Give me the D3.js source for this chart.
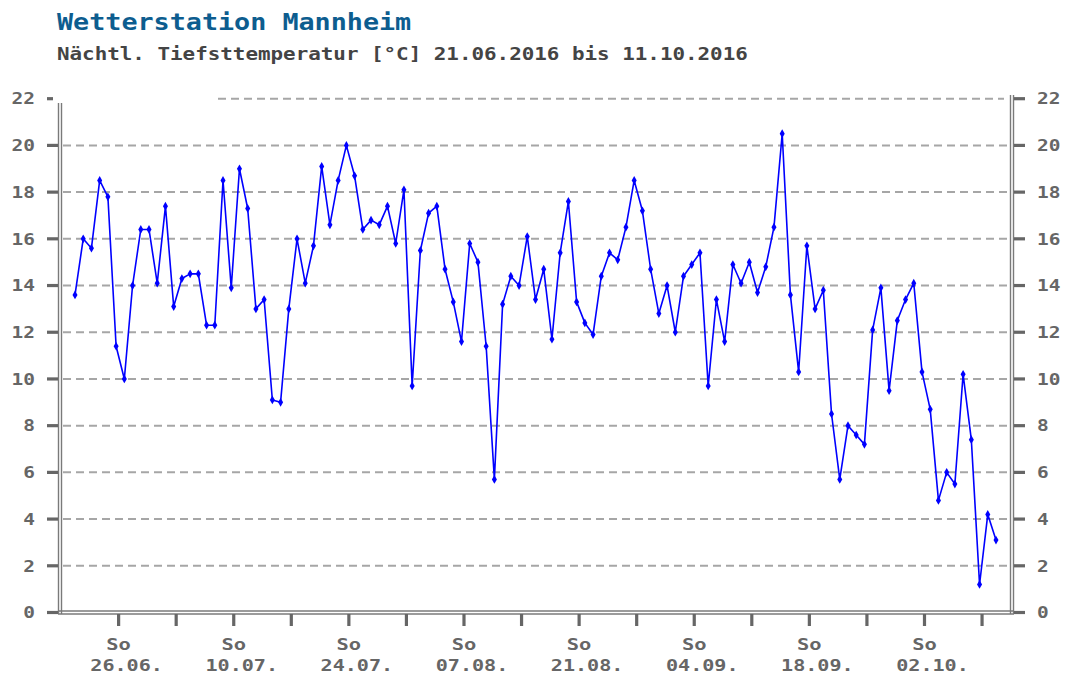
<!DOCTYPE html>
<html>
<head>
<meta charset="utf-8">
<script src="https://cdn.jsdelivr.net/npm/d3@7"></script>
<style>
  html, body { margin: 0; padding: 0; background: #fff; }
  svg { display: block; }
</style>
</head>
<body>
<svg id="chart" width="1068" height="677"></svg>
<script>
// ---- data ----
const titleText = "Wetterstation Mannheim";
const subtitleText = "Nächtl. Tiefsttemperatur [°C] 21.06.2016 bis 11.10.2016";
const startDate = "2016-06-21";
const endDate = "2016-10-11";
const minTemps = [
  13.6,16.0,15.6,18.5,17.8,11.4,10.0,14.0,16.4,16.4,
  14.1,17.4,13.1,14.3,14.5,14.5,12.3,12.3,18.5,13.9,
  19.0,17.3,13.0,13.4,9.1,9.0,13.0,16.0,14.1,15.7,
  19.1,16.6,18.5,20.0,18.7,16.4,16.8,16.6,17.4,15.8,
  18.1,9.7,15.5,17.1,17.4,14.7,13.3,11.6,15.8,15.0,
  11.4,5.7,13.2,14.4,14.0,16.1,13.4,14.7,11.7,15.4,
  17.6,13.3,12.4,11.9,14.4,15.4,15.1,16.5,18.5,17.2,
  14.7,12.8,14.0,12.0,14.4,14.9,15.4,9.7,13.4,11.6,
  14.9,14.1,15.0,13.7,14.8,16.5,20.5,13.6,10.3,15.7,
  13.0,13.8,8.5,5.7,8.0,7.6,7.2,12.1,13.9,9.5,
  12.5,13.4,14.1,10.3,8.7,4.8,6.0,5.5,10.2,7.4,
  1.2,4.2,3.1
];
const yTicks = [0,2,4,6,8,10,12,14,16,18,20,22];
const weekdayLabel = "So";

// ---- setup ----
const svg = d3.select("#chart");
const parse = d3.utcParse("%Y-%m-%d");
const d0 = parse(startDate), d1 = parse(endDate);
const dates = minTemps.map((_, i) => d3.utcDay.offset(d0, i));
const data = dates.map((d, i) => ({ date: d, v: minTemps[i] }));

const x = d3.scaleUtc().domain([d0, d1]).range([75, 996]);
const y = d3.scaleLinear().domain([0, 22]).range([612.5, 98.7]);

const fontFam = "'DejaVu Sans Mono', 'Liberation Mono', monospace";
const axisGray = "#7a7a7a";
const labelGray = "#666666";

function stretchedText(sel, str, charW) {
  sel.text(str)
     .attr("textLength", str.length * charW)
     .attr("lengthAdjust", "spacingAndGlyphs");
  return sel;
}

// ---- titles ----
stretchedText(svg.append("text")
  .attr("x", 57).attr("y", 29.5)
  .attr("font-family", fontFam).attr("font-weight", "bold")
  .attr("font-size", 23).attr("fill", "#0d5d8f"), titleText, 16.1);

stretchedText(svg.append("text")
  .attr("x", 57).attr("y", 59.5)
  .attr("font-family", fontFam).attr("font-weight", "bold")
  .attr("font-size", 17).attr("fill", "#444444"), subtitleText, 12.56);

// ---- grid lines ----
const grid = svg.append("g");
yTicks.filter(t => t > 0).forEach(t => {
  grid.append("line")
    .attr("x1", t === 22 ? 218 : 63).attr("x2", t === 22 ? 1004 : 1008)
    .attr("y1", y(t)).attr("y2", y(t))
    .attr("stroke", "#a6a6a6").attr("stroke-width", 2)
    .attr("stroke-dasharray", "8,5");
});

// ---- frame (double lines) ----
const frame = svg.append("g").attr("stroke", axisGray).attr("stroke-width", 1.4);
[58.5, 61.5].forEach(xx => frame.append("line").attr("x1", xx).attr("x2", xx).attr("y1", 103).attr("y2", 614));
[1010.5, 1013.5].forEach(xx => frame.append("line").attr("x1", xx).attr("x2", xx).attr("y1", 95).attr("y2", 614));
[611, 614].forEach(yy => frame.append("line").attr("x1", 58).attr("x2", 1014).attr("y1", yy).attr("y2", yy));

// ---- y axes (left & right) ----
const yl = svg.append("g");
yTicks.forEach(t => {
  yl.append("line")
    .attr("x1", 47).attr("x2", t === 22 ? 53 : 58)
    .attr("y1", y(t)).attr("y2", y(t))
    .attr("stroke", "#666").attr("stroke-width", 3.2);
  stretchedText(yl.append("text")
    .attr("x", 35).attr("y", y(t)).attr("dy", "0.36em")
    .attr("text-anchor", "end")
    .attr("font-family", fontFam).attr("font-weight", "bold")
    .attr("font-size", 16).attr("fill", labelGray), String(t), 11.7);
  yl.append("line")
    .attr("x1", 1014).attr("x2", 1025)
    .attr("y1", y(t)).attr("y2", y(t))
    .attr("stroke", "#666").attr("stroke-width", 3.2);
  stretchedText(yl.append("text")
    .attr("x", 1037).attr("y", y(t)).attr("dy", "0.36em")
    .attr("text-anchor", "start")
    .attr("font-family", fontFam).attr("font-weight", "bold")
    .attr("font-size", 16).attr("fill", labelGray), String(t), 11.7);
});

// ---- x axis (Sundays) ----
const sundays = d3.utcSunday.range(d0, d1);
const tickPos = d => x(d) + 2.5;
const xg = svg.append("g");
sundays.forEach((d, i) => {
  xg.append("line")
    .attr("x1", tickPos(d)).attr("x2", tickPos(d))
    .attr("y1", 614).attr("y2", 626)
    .attr("stroke", "#666").attr("stroke-width", 3.2);
  if (i % 2 === 0) {
    stretchedText(xg.append("text")
      .attr("x", tickPos(d)).attr("y", 650)
      .attr("text-anchor", "middle")
      .attr("font-family", fontFam).attr("font-weight", "bold")
      .attr("font-size", 16).attr("fill", labelGray), weekdayLabel, 12.3);
    stretchedText(xg.append("text")
      .attr("x", tickPos(d) + 8).attr("y", 671)
      .attr("text-anchor", "middle")
      .attr("font-family", fontFam).attr("font-weight", "bold")
      .attr("font-size", 16).attr("fill", labelGray), d3.utcFormat("%d.%m.")(d), 12.1);
  }
});

// ---- series ----
const line = d3.line().x(d => x(d.date)).y(d => y(d.v));
svg.append("path")
  .datum(data)
  .attr("d", line)
  .attr("fill", "none")
  .attr("stroke", "#0000ff")
  .attr("stroke-width", 1.6)
  .attr("stroke-linejoin", "round");

svg.append("g").selectAll("path")
  .data(data)
  .join("path")
  .attr("transform", d => `translate(${x(d.date)},${y(d.v)})`)
  .attr("d", d3.symbol(d3.symbolDiamond, 22)())
  .attr("fill", "#0000ff");
</script>
</body>
</html>
